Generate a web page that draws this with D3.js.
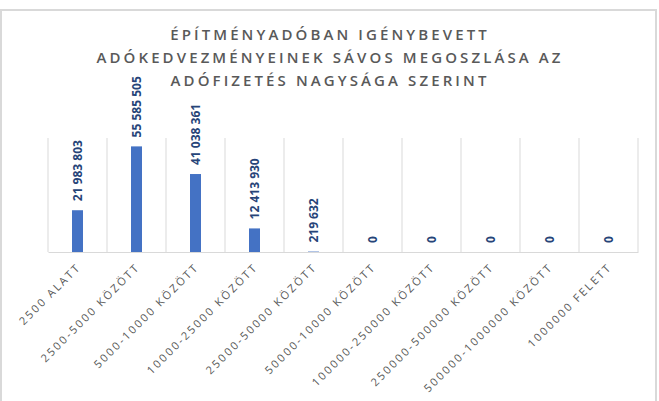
<!DOCTYPE html>
<html>
<head>
<meta charset="utf-8">
<script src="https://cdn.jsdelivr.net/npm/d3@7"></script>
<style>
  html, body { margin: 0; padding: 0; background: #fff; }
  svg { display: block; font-family: "Open Sans", "DejaVu Sans", sans-serif; }
</style>
</head>
<body>
<div id="chart"></div>
<script>
const categories = [
  "2500 ALATT",
  "2500-5000 KÖZÖTT",
  "5000-10000 KÖZÖTT",
  "10000-25000 KÖZÖTT",
  "25000-50000 KÖZÖTT",
  "50000-10000 KÖZÖTT",
  "100000-250000 KÖZÖTT",
  "250000-500000 KÖZÖTT",
  "500000-1000000 KÖZÖTT",
  "1000000 FELETT",
];
const values = [21983803, 55585505, 41038361, 12413930, 219632, 0, 0, 0, 0, 0];
const titleLines = [
  "ÉPÍTMÉNYADÓBAN IGÉNYBEVETT",
  "ADÓKEDVEZMÉNYEINEK SÁVOS MEGOSZLÁSA AZ",
  "ADÓFIZETÉS NAGYSÁGA SZERINT",
];
const yMax = 60000000;

const width = 659;
const height = 401;
const margin = { top: 138, right: 21, bottom: 149, left: 48 };
const chartWidth = width - margin.left - margin.right;
const chartHeight = height - margin.top - margin.bottom;

const svg = d3
  .select("#chart")
  .append("svg")
  .attr("width", width)
  .attr("height", height);

// chart frame
svg.append("rect")
  .attr("x", 1)
  .attr("y", 10)
  .attr("width", 655)
  .attr("height", 420)
  .attr("fill", "none")
  .attr("stroke", "#d9d9d9")
  .attr("stroke-width", 2);

// title
const title = svg.append("text")
  .attr("text-anchor", "middle")
  .style("font-size", "15px")
  .style("font-weight", 600)
  .style("letter-spacing", "3.1px")
  .style("fill", "#595959");

title.selectAll("tspan")
  .data(titleLines)
  .enter()
  .append("tspan")
  .attr("x", 330)
  .attr("y", (d, i) => 40 + i * 23)
  .text((d) => d);

const g = svg.append("g")
  .attr("transform", `translate(${margin.left},${margin.top})`);

const x = d3.scaleBand().domain(categories).range([0, chartWidth]);
const y = d3.scaleLinear().domain([0, yMax]).range([chartHeight, 0]);

// vertical category gridlines
const bounds = categories.map((c) => x(c)).concat([chartWidth]);
g.selectAll(".grid")
  .data(bounds)
  .enter()
  .append("line")
  .attr("x1", (d) => d)
  .attr("x2", (d) => d)
  .attr("y1", 0)
  .attr("y2", chartHeight)
  .attr("stroke", "#d9d9d9")
  .attr("stroke-width", 1);

// x axis
const xAxis = g.append("g")
  .attr("transform", `translate(0,${chartHeight})`)
  .call(d3.axisBottom(x).tickSize(0).tickPadding(0));

xAxis.select(".domain").attr("stroke", "#d9d9d9");
xAxis.selectAll("text")
  .attr("text-anchor", "end")
  .attr("dy", 0)
  .attr("transform", "translate(4,16) rotate(-45)")
  .style("font-size", "11px")
  .style("letter-spacing", "2.2px")
  .style("font-family", "\"Open Sans\", sans-serif")
  .style("fill", "#595959");

// bars
const barW = 11;
const data = categories.map((c, i) => ({ cat: c, value: values[i] }));

g.selectAll(".bar")
  .data(data)
  .enter()
  .append("rect")
  .attr("class", "bar")
  .attr("x", (d) => x(d.cat) + x.bandwidth() / 2 - barW / 2)
  .attr("y", (d) => y(d.value))
  .attr("width", barW)
  .attr("height", (d) => chartHeight - y(d.value))
  .attr("fill", "#4472c4");

// data labels
const fmt = (v) => d3.format(",")(v).replace(/,/g, " ");

g.selectAll(".label")
  .data(data)
  .enter()
  .append("text")
  .attr("class", "label")
  .attr("transform", (d) =>
    `translate(${x(d.cat) + x.bandwidth() / 2 + 4},${y(d.value) - 9}) rotate(-90)`)
  .style("font-size", "12px")
  .style("font-weight", "bold")
  .style("fill", "#264478")
  .text((d) => fmt(d.value));
</script>
</body>
</html>
